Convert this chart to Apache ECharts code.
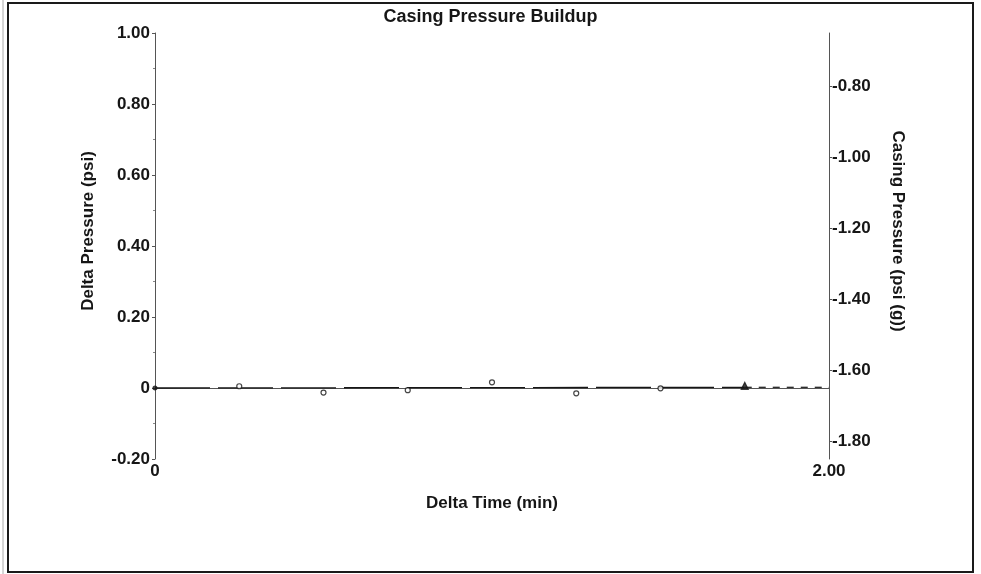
<!DOCTYPE html>
<html>
<head>
<meta charset="utf-8">
<script src="https://cdn.jsdelivr.net/npm/echarts@6/dist/echarts.min.js"></script>
<style>
  html, body { margin: 0; padding: 0; background: #fff; }
  #chart { width: 981px; height: 574px; }
</style>
</head>
<body>
<div id="chart"></div>
<script>
// readings
const pointTimes = [0, 0.25, 0.5, 0.75, 1.0, 1.25, 1.5, 1.75]
const pointDeltas = [0, 0.005, -0.013, -0.006, 0.016, -0.015, -0.001, 0.006]
const trendTimes = [0, 1.75]
const trendDeltas = [0, 0.002]
const extendTimes = [1.75, 2.0]
const extendDeltas = [0.002, 0.002]
const casingTicks = [-1.8, -1.6, -1.4, -1.2, -1.0, -0.8]

const font = 'Liberation Sans, Arial, sans-serif'
const ink = '#161616'

const chart = echarts.init(document.getElementById('chart'))

const pts = pointTimes.map((t, i) => {
  const item = { value: [t, pointDeltas[i]] }
  if (i === 0) {
    item.symbol = 'circle'
    item.symbolSize = 4
    item.itemStyle = { color: ink }
  } else if (i === pointTimes.length - 1) {
    item.symbol = 'triangle'
    item.symbolSize = 7
    item.itemStyle = { color: ink }
  }
  return item
})

const option = {
  backgroundColor: '#fff',
  animation: false,
  title: {
    text: 'Casing Pressure Buildup',
    left: 'center',
    top: 3,
    textStyle: { fontFamily: font, fontSize: 18, fontWeight: 'bold', color: ink }
  },
  grid: { left: 155, right: 152, top: 33, bottom: 115 },
  xAxis: {
    type: 'value',
    min: 0,
    max: 2,
    interval: 2,
    name: 'Delta Time (min)',
    nameLocation: 'middle',
    nameGap: 36,
    nameTextStyle: { fontFamily: font, fontSize: 17, fontWeight: 'bold', color: ink },
    axisLine: { lineStyle: { color: '#555', width: 1 } },
    axisTick: { show: true, length: 4, lineStyle: { color: '#555' } },
    axisLabel: {
      margin: 4,
      fontFamily: font, fontSize: 17, fontWeight: 'bold', color: ink,
      formatter: v => v === 0 ? '0' : v.toFixed(2)
    },
    splitLine: { show: false }
  },
  yAxis: [
    {
      type: 'value',
      min: -0.2,
      max: 1.0,
      interval: 0.2,
      name: 'Delta Pressure (psi)',
      nameLocation: 'middle',
      nameRotate: 90,
      nameGap: 58,
      nameTextStyle: {
        fontFamily: font, fontSize: 17, fontWeight: 'bold', color: ink,
        padding: [0, 0, 0, 30]
      },
      axisLine: { show: true, lineStyle: { color: '#555', width: 1 } },
      axisTick: { show: true, length: 3, lineStyle: { color: '#555' } },
      minorTick: { show: true, splitNumber: 2, length: 2, lineStyle: { color: '#888' } },
      axisLabel: {
        margin: 5,
        fontFamily: font, fontSize: 17, fontWeight: 'bold', color: ink,
        formatter: v => Math.abs(v) < 1e-9 ? '0' : v.toFixed(2)
      },
      splitLine: { show: false }
    },
    {
      type: 'value',
      position: 'right',
      min: -1.851,
      max: -0.651,
      name: 'Casing Pressure (psi (g))',
      nameLocation: 'middle',
      nameRotate: -90,
      nameGap: 60,
      nameTextStyle: {
        fontFamily: font, fontSize: 17, fontWeight: 'bold', color: ink,
        padding: [0, 30, 0, 0]
      },
      axisLine: { show: true, lineStyle: { color: '#555', width: 1 } },
      axisTick: { show: true, length: 3, customValues: casingTicks, lineStyle: { color: '#555' } },
      axisLabel: {
        margin: 3,
        customValues: casingTicks,
        fontFamily: font, fontSize: 17, fontWeight: 'bold', color: ink,
        formatter: v => v.toFixed(2)
      },
      splitLine: { show: false }
    }
  ],
  series: [
    {
      name: 'trend',
      type: 'line',
      data: trendTimes.map((t, i) => [t, trendDeltas[i]]),
      symbol: 'none',
      lineStyle: { color: ink, width: 1.3, type: [55, 8] },
      z: 2
    },
    {
      name: 'extension',
      type: 'line',
      data: extendTimes.map((t, i) => [t, extendDeltas[i]]),
      symbol: 'none',
      lineStyle: { color: ink, width: 1.2, type: [7, 7] },
      z: 2
    },
    {
      name: 'points',
      type: 'scatter',
      data: pts,
      symbol: 'circle',
      symbolSize: 5,
      itemStyle: { color: '#fff', borderColor: ink, borderWidth: 1.2 },
      z: 3
    }
  ],
  graphic: [
    {
      type: 'rect',
      shape: { x: 8, y: 3, width: 965, height: 569 },
      style: { fill: null, stroke: '#1a1a1a', lineWidth: 2 },
      silent: true
    },
    {
      type: 'line',
      shape: { x1: 3, y1: 0, x2: 3, y2: 574 },
      style: { stroke: '#aaa', lineWidth: 1 },
      silent: true
    }
  ]
}

chart.setOption(option)
</script>
</body>
</html>
